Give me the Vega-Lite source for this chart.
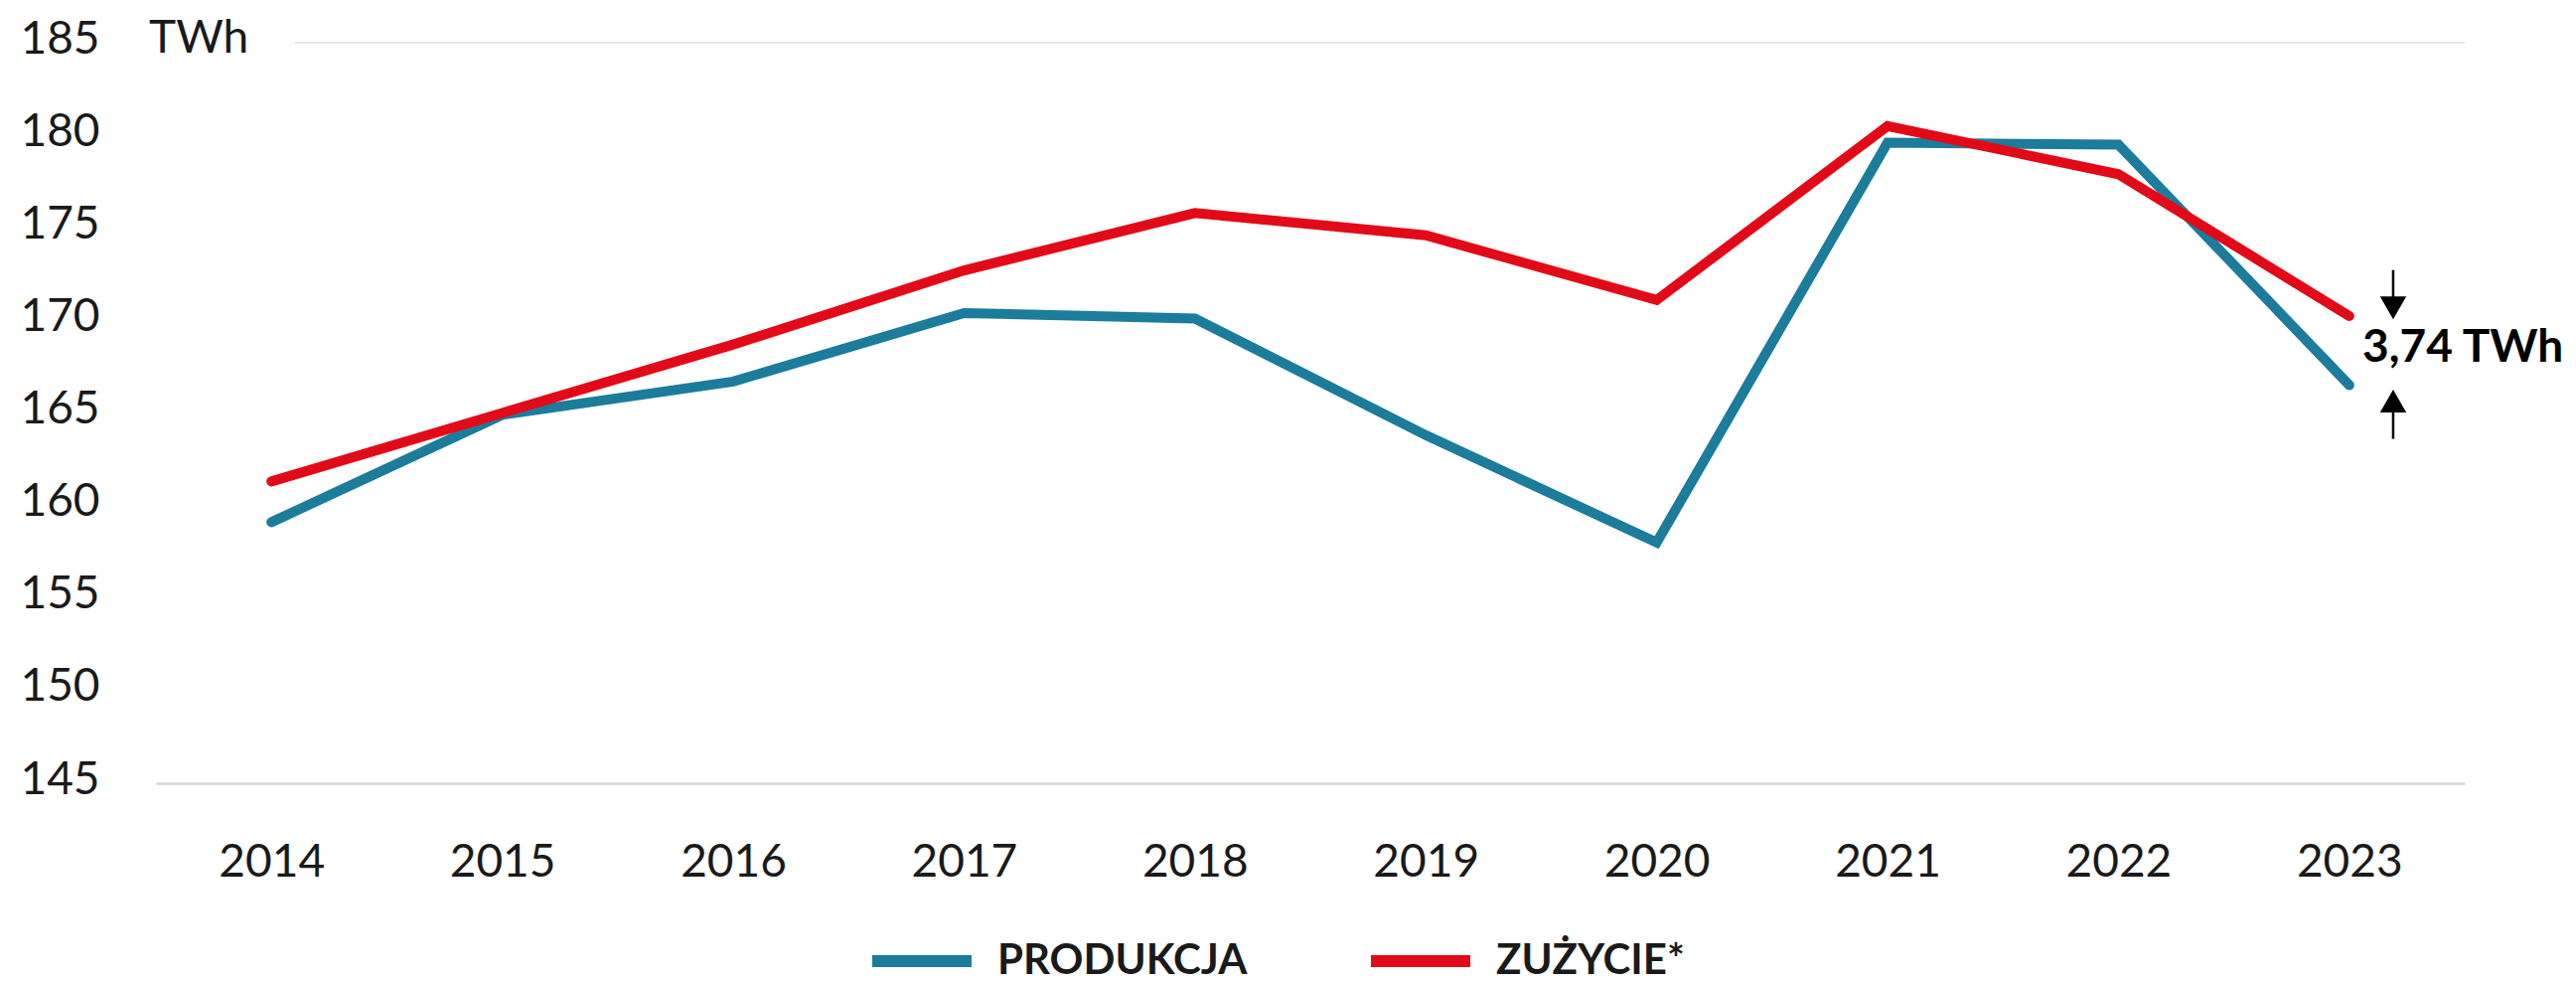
{
  "$schema": "https://vega.github.io/schema/vega-lite/v6.json",
  "width": 2324,
  "height": 745,
  "autosize": {"type": "none"},
  "padding": {"left": 157, "top": 43, "right": 112, "bottom": 200},
  "background": "white",
  "config": {"view": {"stroke": null}, "font": "Lato"},
  "layer": [
    {
      "data": {"values": [{}]},
      "mark": {"type": "rule", "color": "#dedede", "strokeWidth": 1.5},
      "encoding": {
        "x": {"datum": 2014.1, "type": "quantitative", "title": null},
        "x2": {"datum": 2023.5},
        "y": {"datum": 185, "type": "quantitative", "title": null}
      }
    },
    {
      "data": {
        "values": [
          {"year": 2014, "series": "PRODUKCJA", "value": 159.1},
          {"year": 2015, "series": "PRODUKCJA", "value": 164.9},
          {"year": 2016, "series": "PRODUKCJA", "value": 166.7},
          {"year": 2017, "series": "PRODUKCJA", "value": 170.4},
          {"year": 2018, "series": "PRODUKCJA", "value": 170.1},
          {"year": 2019, "series": "PRODUKCJA", "value": 163.8},
          {"year": 2020, "series": "PRODUKCJA", "value": 158.0},
          {"year": 2021, "series": "PRODUKCJA", "value": 179.6},
          {"year": 2022, "series": "PRODUKCJA", "value": 179.5},
          {"year": 2023, "series": "PRODUKCJA", "value": 166.5},
          {"year": 2014, "series": "ZUŻYCIE*", "value": 161.3},
          {"year": 2015, "series": "ZUŻYCIE*", "value": 165.0},
          {"year": 2016, "series": "ZUŻYCIE*", "value": 168.7},
          {"year": 2017, "series": "ZUŻYCIE*", "value": 172.7},
          {"year": 2018, "series": "ZUŻYCIE*", "value": 175.8},
          {"year": 2019, "series": "ZUŻYCIE*", "value": 174.6},
          {"year": 2020, "series": "ZUŻYCIE*", "value": 171.1},
          {"year": 2021, "series": "ZUŻYCIE*", "value": 180.5},
          {"year": 2022, "series": "ZUŻYCIE*", "value": 177.9},
          {"year": 2023, "series": "ZUŻYCIE*", "value": 170.24}
        ]
      },
      "mark": {"type": "line", "strokeWidth": 10, "strokeCap": "round", "strokeJoin": "miter"},
      "encoding": {
        "x": {
          "field": "year",
          "type": "quantitative",
          "title": null,
          "scale": {"domain": [2013.5, 2023.5], "nice": false, "zero": false},
          "axis": {
            "values": [2014, 2015, 2016, 2017, 2018, 2019, 2020, 2021, 2022, 2023],
            "format": "d",
            "grid": false,
            "ticks": false,
            "domainColor": "#d6d6d6",
            "domainWidth": 2.5,
            "labelFont": "Lato",
            "labelFontSize": 46,
            "labelColor": "#1a1a1a",
            "labelBaseline": "middle",
            "labelPadding": 79,
            "labelFlush": false,
            "labelOverlap": false
          }
        },
        "y": {
          "field": "value",
          "type": "quantitative",
          "title": null,
          "scale": {"domain": [145, 185], "nice": false, "zero": false},
          "axis": {
            "values": [145, 150, 155, 160, 165, 170, 175, 180, 185],
            "domain": false,
            "ticks": false,
            "labelFont": "Lato",
            "labelFontSize": 46,
            "labelColor": "#1a1a1a",
            "labelPadding": 57,
            "labelOffset": -4,
            "gridColor": "#dedede",
            "gridWidth": 1.5,
            "gridOpacity": {"condition": {"test": "datum.value === 185 || datum.value === 145", "value": 0}, "value": 1}
          }
        },
        "color": {
          "field": "series",
          "type": "nominal",
          "scale": {"domain": ["PRODUKCJA", "ZUŻYCIE*"], "range": ["#1b7c9b", "#e20a17"]},
          "legend": {
            "orient": "none",
            "legendX": 715,
            "legendY": 868,
            "direction": "horizontal",
            "title": null,
            "symbolType": "stroke",
            "symbolSize": 10000,
            "symbolStrokeWidth": 12,
            "labelFont": "Lato",
            "labelFontWeight": "bold",
            "labelFontSize": 42,
            "labelColor": "#1a1a1a",
            "labelOffset": 20,
            "columnPadding": 100,
            "labelLimit": 0
          }
        }
      }
    },
    {
      "data": {"values": [{}]},
      "mark": {"type": "text", "text": "TWh", "align": "left", "baseline": "middle", "dx": -7, "dy": -4, "fontSize": 46, "font": "Lato", "color": "#1a1a1a"},
      "encoding": {
        "x": {"datum": 2013.5, "type": "quantitative"},
        "y": {"datum": 185, "type": "quantitative"}
      }
    },
    {
      "data": {"values": [{}]},
      "mark": {"type": "rule", "color": "black", "strokeWidth": 2.5},
      "encoding": {
        "x": {"datum": 2023.19, "type": "quantitative"},
        "y": {"datum": 172.72, "type": "quantitative"},
        "y2": {"datum": 170.95}
      }
    },
    {
      "data": {"values": [{}]},
      "mark": {"type": "point", "shape": "triangle-down", "filled": true, "size": 700, "color": "black", "opacity": 1},
      "encoding": {
        "x": {"datum": 2023.19, "type": "quantitative"},
        "y": {"datum": 170.68, "type": "quantitative"}
      }
    },
    {
      "data": {"values": [{}]},
      "mark": {"type": "rule", "color": "black", "strokeWidth": 2.5},
      "encoding": {
        "x": {"datum": 2023.19, "type": "quantitative"},
        "y": {"datum": 165.3, "type": "quantitative"},
        "y2": {"datum": 163.6}
      }
    },
    {
      "data": {"values": [{}]},
      "mark": {"type": "point", "shape": "triangle-up", "filled": true, "size": 700, "color": "black", "opacity": 1},
      "encoding": {
        "x": {"datum": 2023.19, "type": "quantitative"},
        "y": {"datum": 165.64, "type": "quantitative"}
      }
    },
    {
      "data": {"values": [{}]},
      "mark": {"type": "text", "text": "3,74 TWh", "align": "left", "baseline": "middle", "fontSize": 46, "fontWeight": "bold", "font": "Lato", "color": "black"},
      "encoding": {
        "x": {"datum": 2023.057, "type": "quantitative"},
        "y": {"datum": 168.54, "type": "quantitative"}
      }
    }
  ]
}
